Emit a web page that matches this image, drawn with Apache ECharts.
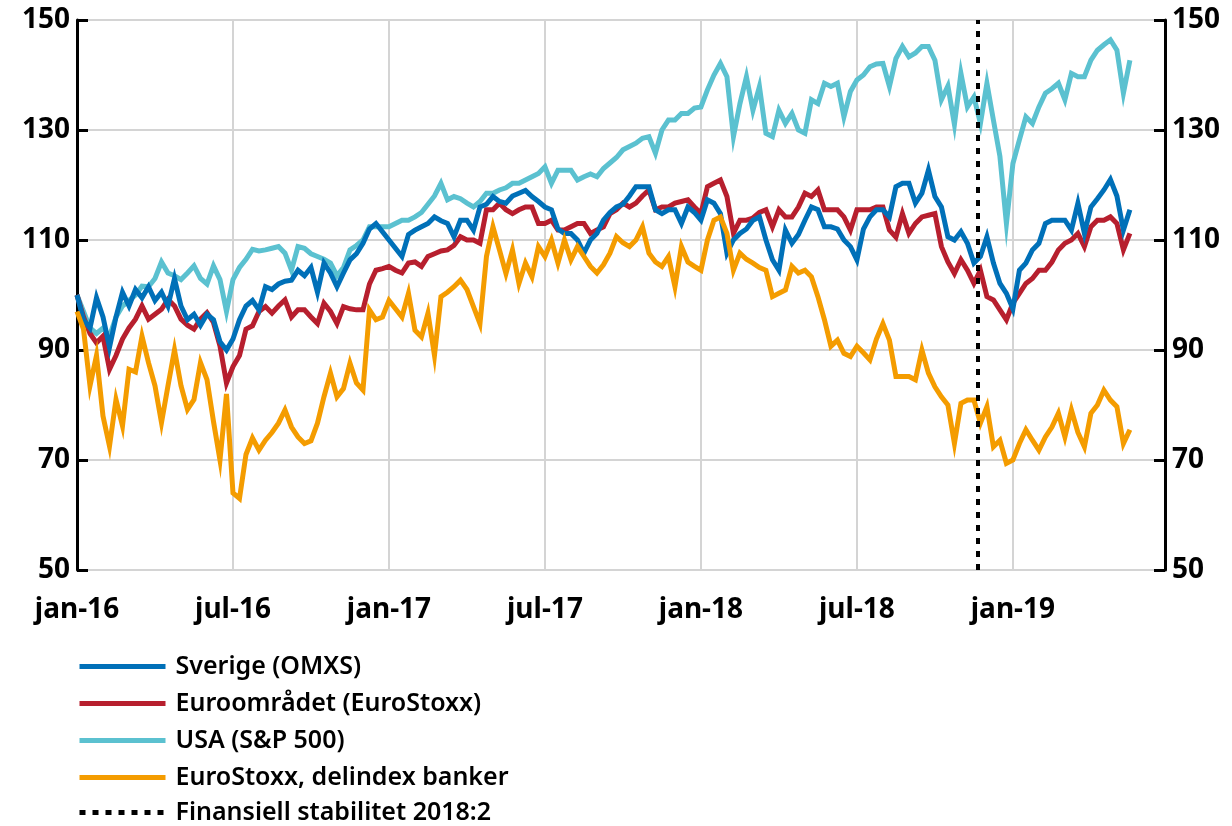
<!DOCTYPE html>
<html>
<head>
<meta charset="utf-8">
<script src="https://cdn.jsdelivr.net/npm/echarts@6/dist/echarts.min.js"></script>
<style>
html, body { margin: 0; padding: 0; background: #fff; }
#chart { width: 1232px; height: 826px; }
</style>
</head>
<body>
<div id="chart"></div>
<script>
// veckovisa observationer, index 100 = jan 2016 (x i månader från jan-16)
var sverige = [
	100, 95.5, 94, 99.5,  96, 90.5, 96, 100.5,  98, 101, 99.5, 101.5,  99, 100.5, 98, 103,
	98, 95.5, 96.5, 94.5,  96.5, 95.5, 91.5, 90,  92, 95.5, 98, 99,  97.3, 101.5, 101, 102,
	102.5, 102.7, 104.5, 103.5,  105, 100.5, 105.8, 104,  101.5, 104, 106.4, 107.5,  109.4, 112, 113, 111.5,
	110, 108.5, 107, 111,  111.8, 112.4, 113, 114.2,  113.5, 113, 110.6, 113.6,  113.6, 111.8, 116, 116.5,
	117.9, 117, 116.7, 118,  118.5, 119, 117.9, 117,  116, 115.5, 112, 111.2,  111.2, 110, 107.6, 110,
	111.2, 113.6, 115, 116,  116.5, 118, 119.7, 119.7,  119.7, 115.5, 114.8, 115.5,  115.5, 113, 116, 115,
	113.6, 117.3, 116.7, 114.8,  107.6, 110, 111.2, 112,  113.6, 114.2, 110, 106.4,  104.5, 111.8, 109.4, 111,
	113.6, 116, 115.5, 112.4,  112.4, 112, 110, 108.8,  106.4, 112, 114.2, 115.5,  115.5, 114.2, 119.7, 120.3,
	120.3, 116.7, 118.5, 122.7,  117.9, 116, 110.6, 110,  111.5, 109.4, 105.8, 107,  110.6, 105.8, 102.1, 100.3,
	97.5, 104.5, 105.8, 108.2,  109.4, 113, 113.6, 113.6,  113.6, 111.8, 116.7, 111.2,  116, 117.5, 119.1, 121,
	118, 111.8, 115.5
];
var euro = [
	100, 96, 93, 91.3,  92.5, 86.5, 89, 92,  94, 95.6, 98, 95.6,  96.5, 97.4, 99.2, 98,
	95.6, 94.5, 93.8, 95.6,  96.8, 95, 90.7, 84,  87, 89, 93.8, 94.4,  97, 97.9, 96.7, 98,
	99.1, 96, 97.3, 97.3,  96, 94.8, 98.5, 97,  94.8, 97.9, 97.5, 97.3,  97.3, 102, 104.5, 104.8,
	105.2, 104.5, 104, 105.8,  106, 105.2, 107, 107.5,  108, 108.2, 109, 110.6,  110, 110, 109.4, 115.5,
	115.5, 116.7, 115.5, 114.8,  115.5, 116, 116, 113,  113, 113.6, 111.8, 111.8,  112.4, 113, 113, 111.2,
	111.8, 112.4, 114.8, 115.5,  116.7, 116, 116.7, 118,  119.1, 115.5, 116, 116,  116.7, 117, 117.3, 116,
	114.8, 119.7, 120.3, 120.9,  117.9, 111.2, 113.6, 113.6,  114, 115, 115.5, 112.4,  115.5, 114.2, 114.2, 116,
	118.5, 117.9, 119.1, 115.5,  115.5, 115.5, 114.2, 111.8,  115.5, 115.5, 115.5, 116,  116, 111.8, 110.5, 114.8,
	111.2, 113, 114.2, 114.5,  114.8, 108.8, 106, 103.9,  106.4, 104.5, 102.1, 104.5,  99.7, 99.1, 97.3, 95.5,
	98.5, 100.3, 102.1, 103,  104.5, 104.5, 106, 108.2,  109.4, 110, 111.2, 108.8,  112.4, 113.6, 113.6, 114.2,
	113, 108.2, 111.2
];
var usa = [
	100, 97, 94, 93,  94, 92.5, 96, 98,  99, 100, 101.6, 101.5,  103, 106, 104, 103.5,
	102.8, 104, 105.3, 103,  102, 105.3, 102.8, 97,  102.8, 105, 106.5, 108.3,  108, 108.2, 108.5, 108.8,
	107.6, 104.5, 108.8, 108.5,  107.5, 107, 106.5, 105.8,  103.5, 105, 108.2, 109,  110, 112.4, 112.4, 112.4,
	112.4, 113, 113.6, 113.6,  114.2, 115, 116.5, 118,  120.3, 117.3, 117.9, 117.5,  116.7, 116, 117, 118.5,
	118.5, 119.1, 119.5, 120.3,  120.3, 120.9, 121.5, 122.1,  123.3, 120.3, 122.7, 122.7,  122.7, 120.9, 121.5, 122,
	121.5, 123, 124, 125,  126.4, 127, 127.6, 128.5,  128.8, 125.8, 130, 131.8,  131.8, 133, 133, 134,
	134.2, 137.3, 140, 142.1,  139.7, 128.8, 134.8, 139.7,  133.6, 137.9, 129.4, 128.8,  133.6, 131.2, 133, 130,
	129.4, 135.5, 134.8, 138.5,  137.9, 138.5, 132.4, 137,  139.1, 140, 141.5, 142,  142.1, 137.9, 143, 145.2,
	143.3, 144, 145.2, 145.2,  142.7, 135.5, 138, 131,  140.3, 134.2, 136, 131.2,  138.5, 131.8, 125.2, 113,
	123.9, 128.2, 132.4, 131.2,  134.2, 136.7, 137.5, 138.5,  135.5, 140.3, 139.7, 139.7,  142.7, 144.5, 145.5, 146.4,
	144.5, 136.7, 142.7
];
var banker = [
	97, 93.8, 83.5, 89,  78, 72.5, 81, 76.2,  86.5, 86, 92.5, 87.7,  83.5, 76.8, 83.5, 90,
	83.5, 79.2, 81, 87.7,  84.6, 77, 70, 82,  64, 63, 71, 74,  71.8, 73.6, 75, 76.7,
	79.1, 76, 74.2, 73,  73.5, 76.7, 81.5, 85.8,  81.5, 83, 87.6, 84,  82.7, 97.3, 95.5, 96,
	99, 97.5, 96, 100.3,  93.6, 92.4, 96.7, 89,  99.7, 100.5, 101.5, 102.7,  101, 97.9, 94.8, 107,
	112.4, 108.2, 103.9, 108.2,  102.1, 105.8, 103.3, 108.8,  107, 110, 105.8, 110,  106.4, 108.8, 107, 105.2,
	104, 105.5, 107.6, 110.6,  109.5, 108.8, 110, 112.4,  107.6, 106, 105.2, 107,  101.5, 108.8, 106, 105.2,
	104.5, 110, 113.6, 114.2,  111.2, 104.5, 107.6, 106.5,  105.8, 105, 104.5, 99.7,  100.3, 100.9, 105.2, 104,
	104.5, 103.3, 99.7, 95.5,  90.7, 91.8, 89.4, 88.8,  90.7, 89.5, 88.2, 92,  94.8, 91.8, 85.2, 85.2,
	85.2, 84.6, 90, 85.8,  83.3, 81.5, 80, 73,  80.3, 80.9, 80.9, 76.7,  79.7, 72.4, 73.6, 69.4,
	70, 73, 75.5, 73.6,  71.8, 74.2, 76, 78.5,  74.2, 79.1, 75, 72.4,  78.5, 80, 82.7, 80.9,
	79.7, 73, 75.5
];
// x-läge för varje observation: en per kvarts månad
var manader = sverige.map(function(v, i){ return i / 4; });
var xEtiketter = ['jan-16', 'jul-16', 'jan-17', 'jul-17', 'jan-18', 'jul-18', 'jan-19'];
var fsRapport = 34.65; // Finansiell stabilitet 2018:2 (nov-18)

var par = function(arr){
	return arr.map(function(v, i){ return [manader[i], v]; });
};

var linje = function(namn, arr, farg){
	return {
		name: namn,
		type: 'line',
		data: par(arr),
		symbol: 'none',
		showSymbol: false,
		lineStyle: { color: farg, width: 5, join: 'miter' },
		itemStyle: { color: farg },
		emphasis: { disabled: true },
		animation: false
	};
};

var dom = document.getElementById('chart');
var myChart = echarts.init(dom);
var font = 'Noto Sans';

var yAxel = function(pos){
	return {
		type: 'value',
		position: pos,
		min: 50,
		max: 150,
		interval: 20,
		axisLine: { show: true, lineStyle: { color: '#000', width: 3 } },
		axisTick: { show: true, inside: true, length: 11, lineStyle: { color: '#000', width: 3 } },
		axisLabel: { color: '#000', fontSize: 28, fontWeight: 'bold', fontFamily: font, margin: 7 },
		splitLine: { show: pos === 'left', lineStyle: { color: '#d4d4d4', width: 2 } }
	};
};

// legend i två delar så att raderna inte bryts till en andra kolumn
var legendDel = function(namn, top){
	return {
		orient: 'vertical',
		left: 77,
		top: top,
		padding: 0,
		itemWidth: 86,
		itemHeight: 22,
		itemGap: 12,
		itemStyle: { opacity: 0 },
		lineStyle: { width: 5 },
		data: namn,
		textStyle: { color: '#000', fontSize: 25, fontWeight: 600, fontFamily: font, padding: [0, 0, 0, 5], lineHeight: 22 }
	};
};

option = {
	backgroundColor: '#fff',
	animation: false,
	grid: { left: 77, right: 67, top: 20, bottom: 256, containLabel: false },
	xAxis: {
		type: 'value',
		min: 0,
		max: 41.85,
		interval: 6,
		axisLine: { show: false },
		axisTick: { show: false },
		splitLine: { show: true, lineStyle: { color: '#d4d4d4', width: 2 } },
		axisLabel: {
			color: '#000', fontSize: 28, fontWeight: 'bold', fontFamily: font, margin: 26,
			showMaxLabel: false,
			formatter: function(v){
				if (Math.abs(v % 6) > 0.001) return '';
				return xEtiketter[Math.round(v / 6)] || '';
			}
		}
	},
	yAxis: [yAxel('left'), yAxel('right')],
	legend: [
		legendDel(['Sverige (OMXS)', 'Euroområdet (EuroStoxx)', 'USA (S&P 500)', 'EuroStoxx, delindex banker'], 654),
		legendDel(['Finansiell stabilitet 2018:2'], 800)
	],
	series: [
		linje('USA (S&P 500)', usa, '#5bc1d0'),
		linje('Euroområdet (EuroStoxx)', euro, '#b71f2e'),
		linje('Sverige (OMXS)', sverige, '#0070b8'),
		linje('EuroStoxx, delindex banker', banker, '#f49c00'),
		{
			name: 'Finansiell stabilitet 2018:2',
			type: 'line',
			data: [],
			symbol: 'none',
			lineStyle: { color: '#000', width: 4, type: [6, 7] },
			itemStyle: { color: '#000' },
			markLine: {
				silent: true,
				symbol: ['none', 'none'],
				label: { show: false },
				lineStyle: { color: '#000', width: 4, type: [6, 7] },
				data: [{ xAxis: fsRapport }]
			}
		}
	]
};

myChart.setOption(option);
window.addEventListener("resize", function(){
	myChart.resize();
});
</script>
</body>
</html>
